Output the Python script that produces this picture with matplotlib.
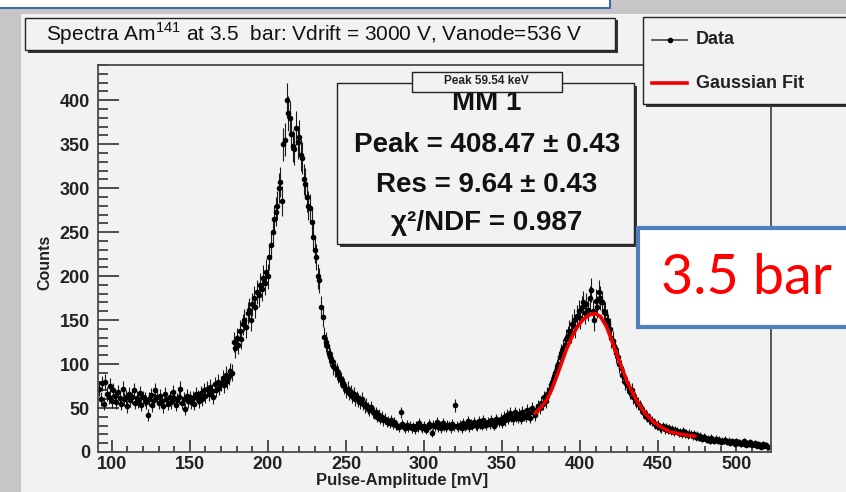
import matplotlib.pyplot as plt
import numpy as np
from matplotlib.patches import Rectangle
from matplotlib.lines import Line2D

plt.rcParams['font.family'] = ['Liberation Sans', 'DejaVu Sans']
plt.rcParams['mathtext.fontset'] = 'custom'
plt.rcParams['mathtext.rm'] = 'Liberation Sans'
plt.rcParams['mathtext.bf'] = 'Liberation Sans:bold'

# histogram, 1 mV bins starting at 92 mV
amp_start = 92
counts = [
    72, 60, 78, 55, 80, 66, 62, 75, 58, 70,
    64, 57, 68, 61, 55, 72, 60, 63, 52, 66,
    59, 63, 70, 56, 61, 58, 67, 54, 62, 60,
    57, 42, 60, 65, 53, 59, 70, 62, 56, 64,
    58, 52, 66, 60, 55, 62, 57, 68, 61, 54,
    59, 63, 72, 56, 60, 49, 64, 58, 62, 57,
    61, 55, 66, 63, 58, 67, 60, 70, 64, 72,
    66, 74, 69, 62, 77, 71, 80, 73, 78, 84,
    76, 88, 81, 86, 92, 90, 125, 118, 130, 122,
    138, 128, 145, 150, 142, 158, 162, 150, 168, 175,
    165, 182, 178, 190, 185, 198, 192, 205, 200, 222,
    235, 250, 265, 273, 280, 300, 307, 285, 350, 355,
    400, 385, 380, 362, 348, 345, 368, 352, 358, 338,
    334, 310, 305, 290, 280, 277, 262, 245, 230, 222,
    200, 195, 165, 154, 131, 125, 120, 112, 108, 104,
    98, 95, 92, 88, 84, 82, 78, 75, 70, 72,
    67, 68, 64, 66, 60, 62, 59, 57, 60, 55,
    52, 54, 50, 48, 51, 46, 44, 45, 40, 42,
    38, 40, 36, 38, 34, 35, 33, 36, 32, 34,
    31, 30, 28, 45, 32, 29, 27, 31, 28, 30,
    27, 29, 26, 30, 28, 33, 29, 27, 30, 25,
    28, 32, 30, 22, 31, 29, 34, 28, 30, 27,
    33, 29, 28, 31, 30, 27, 32, 29, 53, 30,
    28, 31, 27, 33, 29, 30, 35, 28, 32, 30,
    34, 31, 29, 35, 32, 30, 36, 33, 31, 34,
    32, 36, 33, 30, 37, 35, 34, 38, 33, 40,
    36, 42, 38, 44, 40, 37, 45, 41, 39, 43,
    38, 46, 42, 40, 48, 44, 39, 50, 45, 42,
    48, 52, 50, 56, 55, 62, 58, 66, 70, 76,
    80, 85, 90, 96, 100, 108, 112, 118, 122, 128,
    132, 138, 135, 145, 150, 142, 155, 160, 152, 165,
    170, 158, 168, 162, 175, 184, 160, 150, 172, 165,
    182, 175, 170, 160, 158, 150, 145, 140, 130, 126,
    118, 112, 108, 100, 95, 88, 85, 80, 76, 72,
    68, 70, 62, 60, 58, 55, 52, 50, 46, 44,
    42, 40, 38, 37, 35, 33, 32, 30, 31, 28,
    27, 29, 26, 28, 25, 27, 24, 26, 23, 25,
    24, 22, 23, 21, 24, 20, 22, 19, 21, 20,
    18, 20, 17, 19, 16, 18, 15, 17, 16, 14,
    15, 13, 16, 14, 12, 15, 13, 14, 11, 13,
    12, 14, 11, 13, 10, 12, 11, 9, 12, 10,
    11, 9, 10, 12, 8, 10, 9, 11, 8, 9,
    10, 7, 9, 8, 6, 9, 7, 8, 6,
]
amplitude = np.arange(amp_start, amp_start + len(counts))

# fitted curve
fit_x = [371, 375, 378.5, 382, 385, 388, 391, 395, 398, 402, 406, 409.5, 413,
         417, 420, 423, 425.5, 430, 436, 441, 447, 452, 457.5, 465, 473.5]
fit_y = [44, 51, 59, 72, 86, 101, 116, 132, 142, 151, 156, 157.5, 154,
         142, 128, 113, 101, 80, 59, 45, 34, 28, 23, 20, 18]

title = r'Spectra Am$^{141}$ at 3.5  bar: Vdrift = 3000 V, Vanode=536 V'
stats_lines = ['MM 1', 'Peak = 408.47 ± 0.43', 'Res = 9.64 ± 0.43', 'χ²/NDF = 0.987']

W, H = 846, 492
fig = plt.figure(figsize=(W / 100, H / 100), dpi=100, facecolor='#c6c6c6')


def fx(px):
    return px / W


def fy(py):
    return 1 - py / H


def box(x0, y0, x1, y1, fc='#f2f2f2', ec='#222222', lw=1.0, shadow=0, z=2):
    if shadow:
        fig.add_artist(Rectangle((fx(x0 + shadow), fy(y1 + shadow)), fx(x1 - x0), (y1 - y0) / H,
                                 transform=fig.transFigure, fc='#333333', ec='none', zorder=z))
    fig.add_artist(Rectangle((fx(x0), fy(y1)), fx(x1 - x0), (y1 - y0) / H,
                             transform=fig.transFigure, fc=fc, ec=ec, lw=lw, zorder=z + 0.1))


# canvas and the slide bits around it
box(-5, -20, 610, 8, fc='white', ec='#3d6aa8', lw=1.5, z=-2)
box(20.5, 14, 850, 500, fc='#f2f2f2', ec='none', z=-1)

ax = fig.add_axes([fx(98.3), fy(452), fx(771 - 98.3), (452 - 65) / H])
ax.set_facecolor('#f2f2f2')
ax.errorbar(amplitude, counts, yerr=np.sqrt(counts), fmt='o', ms=3, color='black',
            ecolor='#1a1a1a', elinewidth=0.8, capsize=0, zorder=2)
ax.plot(fit_x, fit_y, color='#ee0000', lw=2.6, zorder=3, solid_capstyle='round')

ax.set_xlim(91.4, 522.2)
ax.set_ylim(0, 440)
ax.set_xticks(np.arange(100, 501, 50))
ax.set_xticks(np.arange(100, 521, 10), minor=True)
ax.set_yticks(np.arange(0, 401, 50))
ax.set_yticks(np.arange(0, 441, 10), minor=True)
for s in ax.spines.values():
    s.set_color('#4a4a4a')
    s.set_linewidth(1.3)
ax.tick_params(axis='both', which='both', direction='in', width=1.2, color='#333333',
               top=False, right=False)
ax.tick_params(axis='y', which='major', length=15, labelsize=13, pad=6)
ax.tick_params(axis='y', which='minor', length=7.5)
ax.tick_params(axis='x', which='major', length=9, labelsize=13, pad=3)
ax.tick_params(axis='x', which='minor', length=4.5)
for lab in ax.get_xticklabels() + ax.get_yticklabels():
    lab.set_fontweight('bold')
    lab.set_color('#222222')

fig.text(fx(402), fy(481), 'Pulse-Amplitude [mV]', ha='center', va='center',
         fontsize=12, fontweight='bold', color='#222222')
fig.text(fx(45), fy(262), 'Counts', ha='center', va='center', rotation=90,
         fontsize=11.5, fontweight='bold', color='#222222')

# title pave
box(25, 17.5, 615, 50, shadow=2.5, z=4)
fig.text(fx(314), fy(34), title, ha='center', va='center', fontsize=15, zorder=5,
         color='#111111')

# legend
box(643.3, 17.3, 860, 104, shadow=2.5, z=4)
fig.add_artist(Line2D([fx(652), fx(687)], [fy(40), fy(40)], transform=fig.transFigure,
                      color='#444444', lw=1.2, zorder=6))
fig.add_artist(Line2D([fx(669.5)], [fy(40)], transform=fig.transFigure, color='black',
                      marker='o', ms=3, lw=0, zorder=6))
fig.add_artist(Line2D([fx(652), fx(687)], [fy(83), fy(83)], transform=fig.transFigure,
                      color='#ee0000', lw=2.6, zorder=6))
fig.text(fx(696), fy(40), 'Data', ha='left', va='center', fontsize=13,
         fontweight='bold', color='#222222', zorder=6)
fig.text(fx(696), fy(83), 'Gaussian Fit', ha='left', va='center', fontsize=13,
         fontweight='bold', color='#222222', zorder=6)

# stats pave
box(336.7, 82.7, 634, 244, shadow=3, z=4)
ys = [103, 145, 185, 223]
for t, y in zip(stats_lines, ys):
    fig.text(fx(487), fy(y), t, ha='center', va='center', fontsize=20, fontweight='bold',
             color='#111111', zorder=5)
box(411.7, 71.7, 561.7, 91.7, shadow=1.5, z=6)
fig.text(fx(486.7), fy(81.5), 'Peak 59.54 keV', ha='center', va='center', fontsize=8.5,
         fontweight='bold', color='#222222', zorder=7)

# slide label
box(638.3, 228.3, 870, 326.7, fc='white', ec='#4f7fbf', lw=3, z=8)
fig.text(fx(661), fy(278), '3.5 bar', ha='left', va='center', fontsize=40,
         family=['Lato', 'DejaVu Sans'], color='#ff0000', zorder=9)

fig.savefig('out.png', dpi=100, facecolor=fig.get_facecolor())
